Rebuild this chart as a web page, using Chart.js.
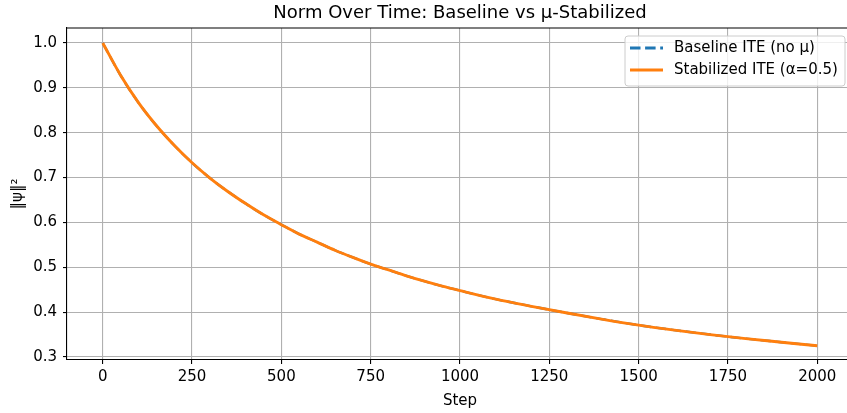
<!DOCTYPE html>
<html>
<head>
<meta charset="utf-8">
<title>Norm Over Time</title>
<script src="https://cdn.jsdelivr.net/npm/chart.js@4.4.1/dist/chart.umd.min.js"></script>
<style>
  html, body { margin: 0; padding: 0; background: #fff; overflow: hidden; }
  #wrap { width: 853px; height: 413px; }
</style>
</head>
<body>
<div id="wrap"><canvas id="normChart" width="853" height="413"></canvas></div>
<script>
// values
const steps = [0, 50, 100, 150, 200, 250, 300, 350, 400, 450, 500, 550, 600, 650, 700, 750, 800, 850, 900, 950, 1000,
  1100, 1200, 1300, 1400, 1500, 1600, 1700, 1800, 1900, 2000];
const baselineNorm = [1.000, 0.928, 0.867, 0.816, 0.772, 0.733, 0.699, 0.669, 0.642, 0.617, 0.595, 0.574, 0.556, 0.538, 0.522, 0.507, 0.494, 0.481, 0.469, 0.458, 0.448,
  0.429, 0.413, 0.398, 0.384, 0.371, 0.360, 0.350, 0.341, 0.333, 0.325];
const stabilizedNorm = [1.000, 0.928, 0.867, 0.816, 0.772, 0.733, 0.699, 0.669, 0.642, 0.617, 0.595, 0.574, 0.556, 0.538, 0.522, 0.507, 0.494, 0.481, 0.469, 0.458, 0.448,
  0.429, 0.413, 0.398, 0.384, 0.371, 0.360, 0.350, 0.341, 0.333, 0.325];
const xTicks = [0, 250, 500, 750, 1000, 1250, 1500, 1750, 2000];
const yTicks = [0.3, 0.4, 0.5, 0.6, 0.7, 0.8, 0.9, 1.0];

const FONT = "'DejaVu Sans', sans-serif";
const BLUE = "#1f77b4";
const ORANGE = "#ff7f0e";
const DASH = [10.5, 4.6];

const toPoints = (vals) => steps.map((s, i) => ({ x: s, y: vals[i] }));

// matplotlib-like frame, title and legend
const decorations = {
  id: "decorations",
  afterDraw(chart) {
    const { ctx, chartArea } = chart;
    ctx.save();
    // top and right spines
    ctx.strokeStyle = "#000";
    ctx.lineWidth = 1.1;
    ctx.beginPath();
    ctx.moveTo(chartArea.left, chartArea.top);
    ctx.lineTo(chartArea.right, chartArea.top);
    ctx.lineTo(chartArea.right, chartArea.bottom);
    ctx.stroke();

    // title
    ctx.fillStyle = "#000";
    ctx.font = "18px " + FONT;
    ctx.textAlign = "center";
    ctx.textBaseline = "middle";
    ctx.fillText("Norm Over Time: Baseline vs \u03bc-Stabilized", (chartArea.left + chartArea.right) / 2, 13);

    // legend
    const bx = 625, by = 36, bw = 220, bh = 50;
    ctx.beginPath();
    ctx.roundRect(bx, by, bw, bh, 3);
    ctx.fillStyle = "rgba(255,255,255,0.8)";
    ctx.fill();
    ctx.strokeStyle = "#cccccc";
    ctx.lineWidth = 1;
    ctx.stroke();

    const items = chart.data.datasets;
    items.forEach((ds, i) => {
      const y = by + 12 + i * 22;
      ctx.beginPath();
      ctx.setLineDash(ds.borderDash || []);
      ctx.strokeStyle = ds.borderColor;
      ctx.lineWidth = 2.8;
      ctx.moveTo(630, y);
      ctx.lineTo(663, y);
      ctx.stroke();
      ctx.setLineDash([]);
      ctx.fillStyle = "#000";
      ctx.font = "15px " + FONT;
      ctx.textAlign = "left";
      ctx.fillText(ds.label, 674, y);
    });
    ctx.restore();
  }
};

const ctx = document.getElementById("normChart").getContext("2d");
const chart = new Chart(ctx, {
  type: "line",
  data: {
    datasets: [
      {
        label: "Baseline ITE (no \u03bc)",
        data: toPoints(baselineNorm),
        borderColor: BLUE,
        borderDash: DASH,
        borderWidth: 2.4,
        pointRadius: 0,
        cubicInterpolationMode: "monotone",
        order: 1,
      },
      {
        label: "Stabilized ITE (\u03b1=0.5)",
        data: toPoints(stabilizedNorm),
        borderColor: ORANGE,
        borderWidth: 2.9,
        pointRadius: 0,
        cubicInterpolationMode: "monotone",
        order: 0,
      },
    ],
  },
  options: {
    responsive: false,
    animation: false,
    layout: { padding: { top: 28, left: 0, right: 0, bottom: 0 } },
    plugins: {
      legend: { display: false },
      title: { display: false },
      tooltip: { enabled: false },
    },
    scales: {
      x: {
        type: "linear",
        min: -100,
        max: 2100,
        afterBuildTicks: (s) => { s.ticks = xTicks.map((v) => ({ value: v })); },
        afterFit: (s) => { s.height = 53; },
        grid: { color: "#b0b0b0", lineWidth: 1.1, tickColor: "#000", tickLength: 4 },
        border: { color: "#000", width: 1.1 },
        ticks: {
          color: "#000",
          font: { family: FONT, size: 15 },
          padding: 4,
          maxRotation: 0,
          autoSkip: false,
          callback: (v) => String(v),
        },
        title: {
          display: true,
          text: "Step",
          color: "#000",
          font: { family: FONT, size: 15 },
          padding: { top: 0, bottom: 3 },
        },
      },
      y: {
        type: "linear",
        min: 0.2933,
        max: 1.0334,
        afterBuildTicks: (s) => { s.ticks = yTicks.map((v) => ({ value: v })); },
        afterFit: (s) => { s.width = 67; },
        grid: { color: "#b0b0b0", lineWidth: 1.1, tickColor: "#000", tickLength: 4 },
        border: { color: "#000", width: 1.1 },
        ticks: {
          color: "#000",
          font: { family: FONT, size: 15 },
          padding: 6,
          autoSkip: false,
          callback: (v) => v.toFixed(1),
        },
        title: {
          display: true,
          text: "\u2016\u03c8\u2016\u00b2",
          color: "#000",
          font: { family: FONT, size: 15 },
          padding: { top: 9, bottom: 0 },
        },
      },
    },
  },
  plugins: [decorations],
});
</script>
</body>
</html>
